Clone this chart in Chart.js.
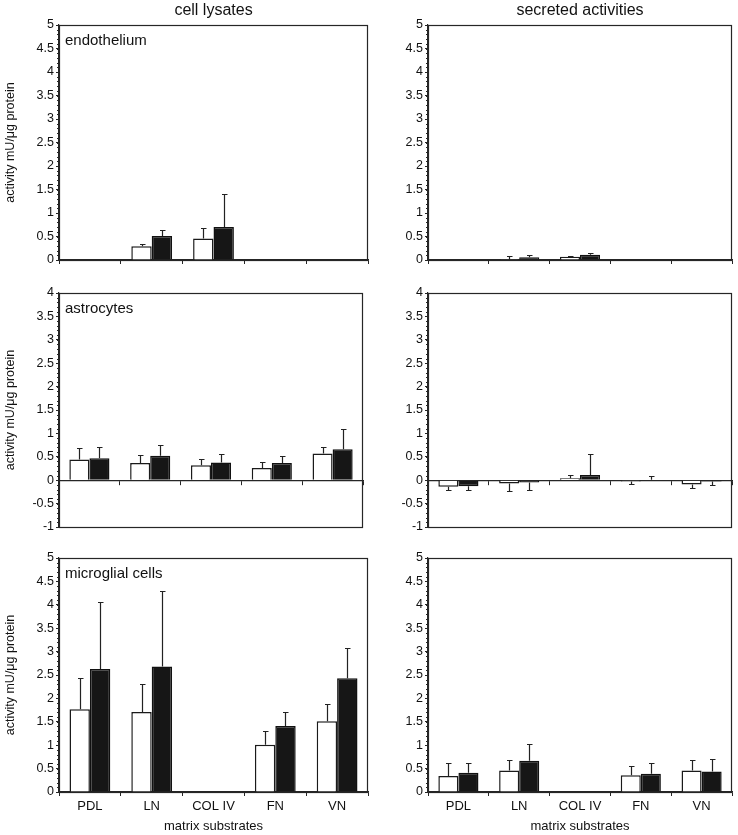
<!DOCTYPE html>
<html>
<head>
<meta charset="utf-8">
<script src="https://cdn.jsdelivr.net/npm/chart.js@4.4.0/dist/chart.umd.min.js"></script>
<style>
  body { margin: 0; background: #fff; }
  #wrap { position: relative; width: 738px; height: 835px; }
  canvas { position: absolute; }
</style>
</head>
<body>
<div id="wrap">
  <canvas id="endoLys" width="370" height="270" style="left:0;top:0"></canvas>
  <canvas id="endoSec" width="368" height="270" style="left:370px;top:0"></canvas>
  <canvas id="astroLys" width="370" height="270" style="left:0;top:270px"></canvas>
  <canvas id="astroSec" width="368" height="270" style="left:370px;top:270px"></canvas>
  <canvas id="microLys" width="370" height="295" style="left:0;top:540px"></canvas>
  <canvas id="microSec" width="368" height="295" style="left:370px;top:540px"></canvas>
</div>
<script>
var categories = ['PDL', 'LN', 'COL IV', 'FN', 'VN'];

// endothelium
var endoLysWhite = [null, 0.29, 0.46, null, null];
var endoLysWhiteErr = [null, 0.04, 0.23, null, null];
var endoLysBlack = [null, 0.51, 0.70, null, null];
var endoLysBlackErr = [null, 0.13, 0.71, null, null];
var endoSecWhite = [null, 0.005, 0.07, null, null];
var endoSecWhiteErr = [null, 0.075, 0.01, null, null];
var endoSecBlack = [null, 0.06, 0.11, null, null];
var endoSecBlackErr = [null, 0.04, 0.04, null, null];

// astrocytes
var astroLysWhite = [0.44, 0.37, 0.32, 0.26, 0.57];
var astroLysWhiteErr = [0.24, 0.17, 0.13, 0.13, 0.14];
var astroLysBlack = [0.47, 0.52, 0.38, 0.37, 0.66];
var astroLysBlackErr = [0.23, 0.24, 0.19, 0.14, 0.43];
var astroSecWhite = [-0.14, -0.07, 0.04, -0.03, -0.09];
var astroSecWhiteErr = [0.07, 0.17, 0.08, 0.06, 0.07];
var astroSecBlack = [-0.13, -0.05, 0.11, 0.01, -0.03];
var astroSecBlackErr = [0.08, 0.15, 0.44, 0.07, 0.08];

// microglial cells
var microLysWhite = [1.77, 1.71, null, 1.01, 1.51];
var microLysWhiteErr = [0.66, 0.59, null, 0.29, 0.38];
var microLysBlack = [2.63, 2.68, null, 1.41, 2.43];
var microLysBlackErr = [1.43, 1.61, null, 0.30, 0.64];
var microSecWhite = [0.34, 0.46, null, 0.36, 0.46];
var microSecWhiteErr = [0.28, 0.23, null, 0.19, 0.22];
var microSecBlack = [0.41, 0.67, null, 0.39, 0.44];
var microSecBlackErr = [0.22, 0.36, null, 0.23, 0.27];

var yRangeTop = [0, 5];
var yRangeMid = [-1, 4];

Chart.defaults.font.family = '"Liberation Sans", Arial, Helvetica, sans-serif';
Chart.defaults.color = '#111';

// frame, minor ticks, error bars and panel texts
var panelPlugin = {
  id: 'panel',
  afterDatasetsDraw: function (chart) {
    var ctx = chart.ctx;
    var y = chart.scales.y;
    ctx.save();
    ctx.strokeStyle = '#222';
    ctx.lineWidth = 1.2;
    chart.data.datasets.forEach(function (ds, i) {
      var meta = chart.getDatasetMeta(i);
      meta.data.forEach(function (bar, j) {
        var v = ds.data[j];
        var e = ds.errors[j];
        if (v === null || e === null) return;
        var dir = v < 0 ? -1 : 1;
        var x = Math.round(bar.x) + 0.5;
        var y0 = y.getPixelForValue(v);
        var y1 = Math.round(y.getPixelForValue(v + dir * e)) + 0.5;
        ctx.beginPath();
        ctx.moveTo(x, y0);
        ctx.lineTo(x, y1);
        ctx.moveTo(x - 2.5, y1);
        ctx.lineTo(x + 3, y1);
        ctx.stroke();
      });
    });
    ctx.restore();
  },
  afterDraw: function (chart, args, opts) {
    var ctx = chart.ctx;
    var a = chart.chartArea;
    var y = chart.scales.y;
    ctx.save();
    ctx.strokeStyle = '#262626';
    ctx.lineWidth = 1.2;
    ctx.strokeRect(a.left + 0.5, a.top + 0.5, a.right - a.left - 1, a.bottom - a.top);
    // minor ticks every 0.1
    ctx.lineWidth = 1;
    ctx.beginPath();
    for (var k = Math.round(y.min * 10); k <= Math.round(y.max * 10); k++) {
      var py = Math.round(y.getPixelForValue(k / 10)) + 0.5;
      ctx.moveTo(a.left - 2, py);
      ctx.lineTo(a.left, py);
    }
    ctx.stroke();
    ctx.fillStyle = '#111';
    if (opts.label) {
      ctx.font = '15px "Liberation Sans", Arial, sans-serif';
      ctx.textAlign = 'left';
      ctx.textBaseline = 'alphabetic';
      ctx.fillText(opts.label, a.left + 6, a.top + 20);
    }
    if (opts.title) {
      ctx.font = '16px "Liberation Sans", Arial, sans-serif';
      ctx.textAlign = 'center';
      ctx.textBaseline = 'middle';
      ctx.fillText(opts.title, (a.left + a.right) / 2, 11);
    }
    ctx.restore();
  }
};

function makePanel(id, p) {
  var ctx = document.getElementById(id).getContext('2d');
  var bottomRow = p.row === 3;
  var midRow = p.row === 2;
  return new Chart(ctx, {
    type: 'bar',
    data: {
      labels: categories,
      datasets: [{
        data: p.white,
        errors: p.whiteErr,
        backgroundColor: '#ffffff',
        borderColor: '#1a1a1a',
        borderWidth: 1.5,
        categoryPercentage: 0.66,
        barPercentage: 1.0
      }, {
        data: p.black,
        errors: p.blackErr,
        backgroundColor: '#161616',
        borderColor: '#111111',
        borderWidth: 1.5,
        categoryPercentage: 0.66,
        barPercentage: 1.0
      }]
    },
    options: {
      responsive: false,
      animation: false,
      layout: { padding: p.pad },
      scales: {
        x: {
          position: midRow ? { y: 0 } : 'bottom',
          grid: { drawOnChartArea: false, tickLength: 4, color: '#262626', offset: true },
          border: { color: '#262626', width: 1.2 },
          ticks: { display: bottomRow, padding: 3, font: { size: 13 } },
          title: { display: bottomRow, text: 'matrix substrates', font: { size: 13 }, padding: { top: 0, bottom: 1 } },
          afterFit: function (s) { s.height = p.xH; }
        },
        y: {
          min: p.range[0],
          max: p.range[1],
          grid: { drawOnChartArea: false, tickLength: 3, color: '#262626' },
          border: { color: '#262626', width: 1.2 },
          ticks: { stepSize: 0.5, padding: 2, font: { size: 12.5 }, callback: function (v) { return String(v); } },
          title: { display: p.yTitle, text: 'activity mU/μg protein', font: { size: 12.5 }, padding: { top: 3, bottom: 0 } },
          afterFit: function (s) { s.width = p.yW; }
        }
      },
      plugins: {
        legend: { display: false },
        tooltip: { enabled: false },
        panel: { label: p.label, title: p.title }
      }
    },
    plugins: [panelPlugin]
  });
}

makePanel('endoLys', { row: 1, white: endoLysWhite, whiteErr: endoLysWhiteErr, black: endoLysBlack, blackErr: endoLysBlackErr,
  range: yRangeTop, yW: 59, xH: 6, yTitle: true, label: 'endothelium', title: 'cell lysates',
  pad: { left: 0, top: 25, right: 2, bottom: 4 } });
makePanel('endoSec', { row: 1, white: endoSecWhite, whiteErr: endoSecWhiteErr, black: endoSecBlack, blackErr: endoSecBlackErr,
  range: yRangeTop, yW: 58, xH: 6, yTitle: false, label: '', title: 'secreted activities',
  pad: { left: 0, top: 25, right: 6, bottom: 4 } });
makePanel('astroLys', { row: 2, white: astroLysWhite, whiteErr: astroLysWhiteErr, black: astroLysBlack, blackErr: astroLysBlackErr,
  range: yRangeMid, yW: 59, xH: 0, yTitle: true, label: 'astrocytes', title: '',
  pad: { left: 0, top: 23, right: 7, bottom: 13 } });
makePanel('astroSec', { row: 2, white: astroSecWhite, whiteErr: astroSecWhiteErr, black: astroSecBlack, blackErr: astroSecBlackErr,
  range: yRangeMid, yW: 58, xH: 0, yTitle: false, label: '', title: '',
  pad: { left: 0, top: 23, right: 6, bottom: 13 } });
makePanel('microLys', { row: 3, white: microLysWhite, whiteErr: microLysWhiteErr, black: microLysBlack, blackErr: microLysBlackErr,
  range: yRangeTop, yW: 59, xH: 43, yTitle: true, label: 'microglial cells', title: '',
  pad: { left: 0, top: 18, right: 2, bottom: 0 } });
makePanel('microSec', { row: 3, white: microSecWhite, whiteErr: microSecWhiteErr, black: microSecBlack, blackErr: microSecBlackErr,
  range: yRangeTop, yW: 58, xH: 43, yTitle: false, label: '', title: '',
  pad: { left: 0, top: 18, right: 6, bottom: 0 } });
</script>
</body>
</html>
